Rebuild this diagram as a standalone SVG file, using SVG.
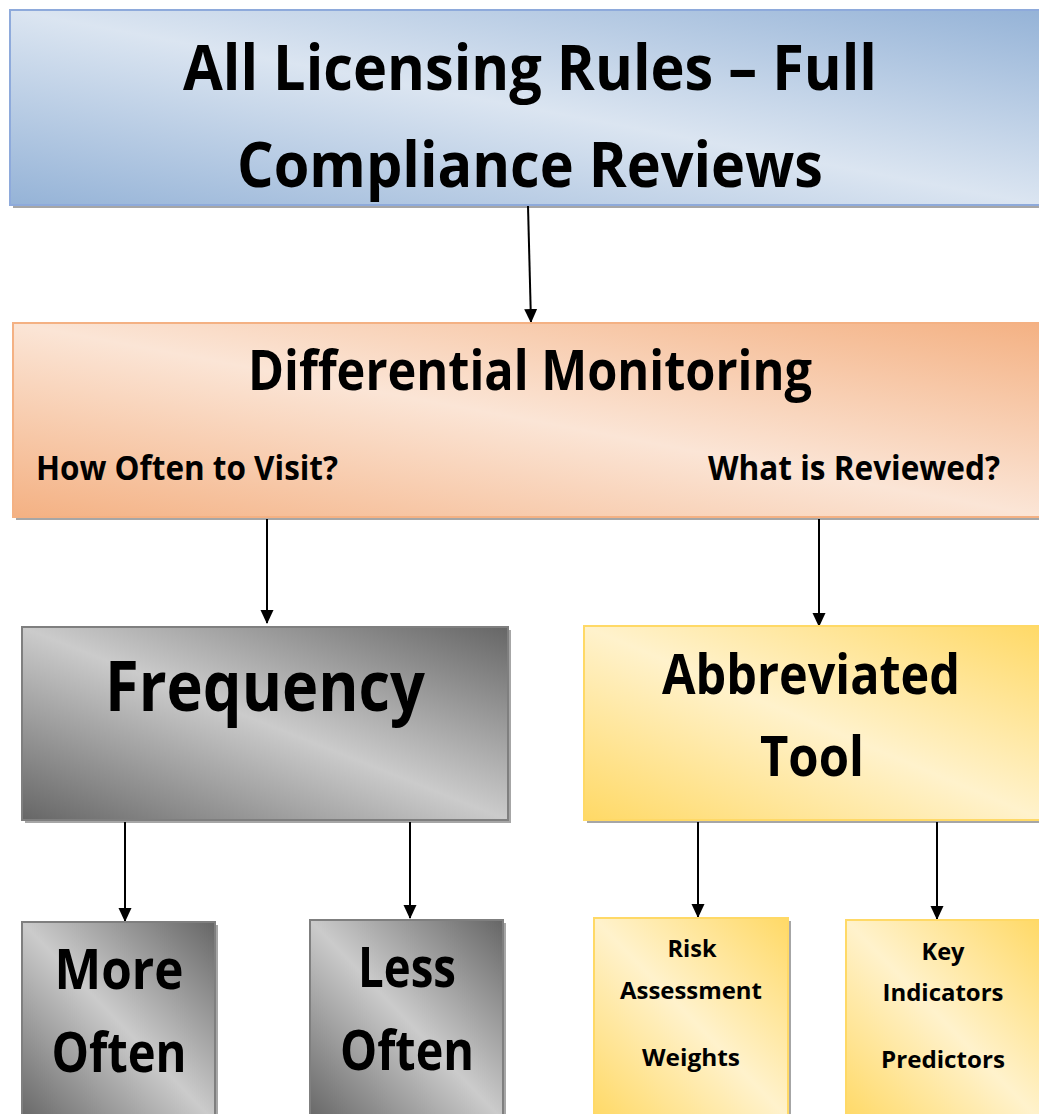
<svg xmlns="http://www.w3.org/2000/svg" width="1039" height="1114" viewBox="0 0 1039 1114">
<defs>
<linearGradient id="gBlue" x1="0" y1="1" x2="1" y2="0"><stop offset="0" stop-color="#95b3d7"/><stop offset="0.5" stop-color="#dbe5f1"/><stop offset="1" stop-color="#95b3d7"/></linearGradient>
<linearGradient id="gOrange" x1="0" y1="1" x2="1" y2="0"><stop offset="0" stop-color="#f4b183"/><stop offset="0.5" stop-color="#fbe5d6"/><stop offset="1" stop-color="#f4b183"/></linearGradient>
<linearGradient id="gGray" x1="0" y1="1" x2="1" y2="0"><stop offset="0" stop-color="#666666"/><stop offset="0.5" stop-color="#cbcbcb"/><stop offset="1" stop-color="#666666"/></linearGradient>
<linearGradient id="gYellow" x1="0" y1="1" x2="1" y2="0"><stop offset="0" stop-color="#ffd966"/><stop offset="0.5" stop-color="#fff2cc"/><stop offset="1" stop-color="#ffd966"/></linearGradient>
<marker id="arr" markerWidth="14" markerHeight="14" refX="13" refY="7" orient="auto" markerUnits="userSpaceOnUse"><path d="M0,0.5 L14,7 L0,13.5 Z" fill="#000"/></marker>
</defs>
<style>
text{font-family:"Open Sans","Liberation Sans",sans-serif;font-weight:bold;fill:#000;text-anchor:middle}
.sh{fill:#000;opacity:0.35}
.con{stroke:#000;stroke-width:2;fill:none;marker-end:url(#arr)}
</style>
<rect width="1039" height="1114" fill="#fff"/>
<g id="connectors">
<line class="con" x1="528" y1="206" x2="531" y2="322"/>
<line class="con" x1="267" y1="519" x2="267" y2="623"/>
<line class="con" x1="819" y1="519" x2="819" y2="626"/>
<line class="con" x1="125" y1="822" x2="125" y2="921"/>
<line class="con" x1="410" y1="822" x2="410" y2="918"/>
<line class="con" x1="698" y1="822" x2="698" y2="917"/>
<line class="con" x1="937" y1="822" x2="937" y2="919"/>
</g>
<g id="top">
<rect class="sh" x="13" y="13" width="1030" height="195"/>
<rect x="10" y="10" width="1032" height="195" fill="url(#gBlue)" stroke="#8eaadb" stroke-width="2"/>
<text x="530" y="90" font-size="62" textLength="694" lengthAdjust="spacingAndGlyphs">All Licensing Rules – Full</text>
<text x="530" y="187" font-size="62" textLength="586" lengthAdjust="spacingAndGlyphs">Compliance Reviews</text>
</g>
<g id="differential">
<rect class="sh" x="16" y="326" width="1030" height="194"/>
<rect x="13" y="323" width="1032" height="194" fill="url(#gOrange)" stroke="#f4b183" stroke-width="2"/>
<text x="530" y="390" font-size="56" textLength="564" lengthAdjust="spacingAndGlyphs">Differential Monitoring</text>
<text x="187" y="480" font-size="34" textLength="302" lengthAdjust="spacingAndGlyphs">How Often to Visit?</text>
<text x="854" y="480" font-size="34" textLength="292" lengthAdjust="spacingAndGlyphs">What is Reviewed?</text>
</g>
<g id="frequency">
<rect class="sh" x="25" y="630" width="486" height="193"/>
<rect x="22" y="627" width="486" height="193" fill="url(#gGray)" stroke="#7f7f7f" stroke-width="2"/>
<text x="265" y="711" font-size="70" textLength="320" lengthAdjust="spacingAndGlyphs">Frequency</text>
</g>
<g id="abbreviated">
<rect class="sh" x="587" y="629" width="460" height="194"/>
<rect x="584" y="626" width="460" height="194" fill="url(#gYellow)" stroke="#ffd966" stroke-width="2"/>
<text x="811" y="694" font-size="56" textLength="298" lengthAdjust="spacingAndGlyphs">Abbreviated</text>
<text x="812" y="776" font-size="56" textLength="104" lengthAdjust="spacingAndGlyphs">Tool</text>
</g>
<g id="more-often">
<rect class="sh" x="25" y="925" width="193" height="200"/>
<rect x="22" y="922" width="193" height="200" fill="url(#gGray)" stroke="#7f7f7f" stroke-width="2"/>
<text x="119" y="989" font-size="56" textLength="129" lengthAdjust="spacingAndGlyphs">More</text>
<text x="119" y="1072" font-size="56" textLength="135" lengthAdjust="spacingAndGlyphs">Often</text>
</g>
<g id="less-often">
<rect class="sh" x="313" y="923" width="193" height="200"/>
<rect x="310" y="920" width="193" height="200" fill="url(#gGray)" stroke="#7f7f7f" stroke-width="2"/>
<text x="407" y="987" font-size="56" textLength="98" lengthAdjust="spacingAndGlyphs">Less</text>
<text x="407" y="1070" font-size="56" textLength="134" lengthAdjust="spacingAndGlyphs">Often</text>
</g>
<g id="risk">
<rect class="sh" x="597" y="921" width="194" height="200"/>
<rect x="594" y="918" width="194" height="200" fill="url(#gYellow)" stroke="#ffd966" stroke-width="2"/>
<text x="692" y="957" font-size="24" textLength="49" lengthAdjust="spacingAndGlyphs">Risk</text>
<text x="691" y="999" font-size="24" textLength="142" lengthAdjust="spacingAndGlyphs">Assessment</text>
<text x="691" y="1066" font-size="24" textLength="98" lengthAdjust="spacingAndGlyphs">Weights</text>
</g>
<g id="key">
<rect class="sh" x="849" y="923" width="194" height="200"/>
<rect x="846" y="920" width="194" height="200" fill="url(#gYellow)" stroke="#ffd966" stroke-width="2"/>
<text x="943" y="960" font-size="24" textLength="43" lengthAdjust="spacingAndGlyphs">Key</text>
<text x="943" y="1001" font-size="24" textLength="121" lengthAdjust="spacingAndGlyphs">Indicators</text>
<text x="943" y="1068" font-size="24" textLength="124" lengthAdjust="spacingAndGlyphs">Predictors</text>
</g>
</svg>
